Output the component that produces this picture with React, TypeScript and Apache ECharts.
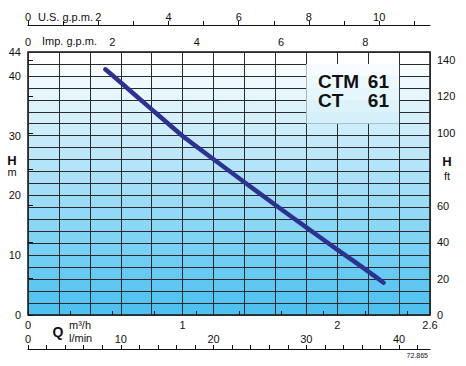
import React, { useEffect, useRef } from "react";
import * as echarts from "echarts";

// Pump curve CTM 61 / CT 61
const flowM3h = [0.5, 0.6, 0.8, 1.0, 1.2, 1.4, 1.6, 1.8, 2.0, 2.2, 2.3];
const headM = [41.1, 38.9, 34.4, 29.95, 26.05, 22.2, 18.4, 14.65, 10.95, 7.3, 5.4];

const m3hLabels = [0, 1, 2, 2.6];
const lminTicks = [0, 2, 4, 6, 8, 10, 12, 14, 16, 18, 20, 22, 24, 26, 28, 30, 32, 34, 36, 38, 40, 42];
const lminLabels = [0, 10, 20, 30, 40];
const usTicks = [0, 1, 2, 3, 4, 5, 6, 7, 8, 9, 10, 11];
const usLabels = [0, 2, 4, 6, 8, 10];
const impTicks = [0, 1, 2, 3, 4, 5, 6, 7, 8, 9];
const impLabels = [0, 2, 4, 6, 8];
const mLabels = [0, 10, 20, 30, 40, 44];
const ftTicks = [0, 20, 40, 60, 80, 100, 120, 140];
const ftLabels = [0, 20, 40, 60, 100, 120, 140];

const Q_MAX = 2.6;
const H_MAX = 44;

const FONT = "'Liberation Sans', Arial, sans-serif";
const TOP = [255, 255, 255];
const BOT = [78, 193, 240];
const NB = 22;
function bandColor(i: number) {
  const t = i / (NB - 1);
  const c = TOP.map((a, k) => Math.round(a + (BOT[k] - a) * t));
  return `rgb(${c[0]},${c[1]},${c[2]})`;
}
function bandGradient(from: number, to: number) {
  const n = to - from + 1;
  const stops: { offset: number; color: string }[] = [];
  for (let i = 0; i < n; i++) {
    const col = bandColor(from + i);
    stops.push({ offset: i / n, color: col });
    stops.push({ offset: (i + 1) / n - 0.0001, color: col });
  }
  return new echarts.graphic.LinearGradient(0, 0, 0, 1, stops);
}

const txt = (x: number, y: number, text: string, extra: any = {}) => ({
  type: "text",
  x,
  y,
  z: 100,
  style: {
    text,
    fontFamily: FONT,
    fontSize: 11,
    fill: "#111",
    verticalAlign: "middle",
    ...extra,
  },
});

export default function App() {
  const ref = useRef<HTMLDivElement>(null);
  useEffect(() => {
    if (!ref.current) return;
    const chart = echarts.init(ref.current, null, { renderer: "svg" });
    const labelStyle = { fontFamily: FONT, fontSize: 11, color: "#111" };
    chart.setOption({
      animation: false,
      backgroundColor: "#fff",
      grid: {
        left: 28,
        top: 52,
        right: 36,
        bottom: 51,
        show: true,
        borderColor: "#111",
        borderWidth: 1.5,
        backgroundColor: bandGradient(0, NB - 1),
      },
      xAxis: [
        {
          type: "value",
          min: 0,
          max: Q_MAX,
          interval: 0.2,
          position: "bottom",
          axisLine: { show: false },
          axisTick: { show: false },
          splitLine: { show: true, lineStyle: { color: "#2a2a2a", width: 1 } },
          axisLabel: { ...labelStyle, margin: 4, customValues: m3hLabels, formatter: (v: number) => String(v) },
        },
        {
          type: "value",
          min: 0,
          max: (Q_MAX * 1000) / 60,
          position: "bottom",
          offset: 34,
          axisLine: { show: true, onZero: false, lineStyle: { color: "#111", width: 1.2 } },
          axisTick: { show: true, inside: true, length: 4, customValues: lminTicks, lineStyle: { color: "#111" } },
          splitLine: { show: false },
          axisLabel: { ...labelStyle, inside: true, margin: 5, customValues: lminLabels },
        },
        {
          type: "value",
          min: 0,
          max: Q_MAX / 0.227125,
          position: "top",
          offset: 27,
          axisLine: { show: true, onZero: false, lineStyle: { color: "#111", width: 1.2 } },
          axisTick: { show: true, length: 4, customValues: usTicks, lineStyle: { color: "#111" } },
          splitLine: { show: false },
          axisLabel: { ...labelStyle, margin: 3, customValues: usLabels },
        },
        {
          type: "value",
          min: 0,
          max: Q_MAX / 0.272765,
          position: "top",
          offset: 0,
          axisLine: { show: false },
          axisTick: { show: true, length: 4, customValues: impTicks, lineStyle: { color: "#111" } },
          splitLine: { show: false },
          axisLabel: { ...labelStyle, margin: 5, customValues: impLabels },
        },
      ],
      yAxis: [
        {
          type: "value",
          min: 0,
          max: H_MAX,
          interval: 2,
          position: "left",
          axisLine: { show: false },
          axisTick: { show: false },
          splitLine: { show: true, lineStyle: { color: "#2a2a2a", width: 1 } },
          axisLabel: { ...labelStyle, margin: 7, customValues: mLabels },
        },
        {
          type: "value",
          min: 0,
          max: H_MAX * 3.28084,
          position: "right",
          axisLine: { show: false },
          axisTick: { show: true, length: 5, customValues: ftTicks, lineStyle: { color: "#111" } },
          splitLine: { show: false },
          axisLabel: { ...labelStyle, margin: 7, customValues: ftLabels },
        },
      ],
      series: [
        {
          type: "line",
          xAxisIndex: 0,
          yAxisIndex: 0,
          data: flowM3h.map((q, i) => [q, headM[i]]),
          showSymbol: false,
          symbol: "none",
          smooth: 0.15,
          lineStyle: { color: "#2E3192", width: 4.5, cap: "round", join: "round" },
          markArea: {
            silent: true,
            label: { show: false },
            itemStyle: { color: bandGradient(1, 5), borderWidth: 0 },
            data: [[{ xAxis: 1.8, yAxis: 42 }, { xAxis: 2.4, yAxis: 32 }]],
          },
          z: 5,
        },
      ],
      graphic: [
        txt(38, 17, "U.S. g.p.m."),
        txt(42, 41, "Imp. g.p.m."),
        txt(12, 160, "H", { fontWeight: "bold", fontSize: 13, align: "center" }),
        txt(12, 172, "m", { align: "center" }),
        txt(447, 161, "H", { fontWeight: "bold", fontSize: 13, align: "center" }),
        txt(447, 176, "ft", { align: "center" }),
        txt(58, 332, "Q", { fontWeight: "bold", fontSize: 14, align: "center" }),
        txt(69, 325, "m³/h"),
        txt(69, 338, "l/min"),
        txt(428, 355, "72.865", { fontSize: 7, align: "right" }),
        txt(318, 81, "CTM", { fontWeight: "bold", fontSize: 19 }),
        txt(389, 81, "61", { fontWeight: "bold", fontSize: 19, align: "right" }),
        txt(318, 100.5, "CT", { fontWeight: "bold", fontSize: 19 }),
        txt(389, 100.5, "61", { fontWeight: "bold", fontSize: 19, align: "right" }),
      ],
    });
    return () => chart.dispose();
  }, []);
  return (
    <div
      ref={ref}
      style={{ position: "fixed", left: 0, top: 0, width: 466, height: 366, background: "#fff" }}
    />
  );
}
